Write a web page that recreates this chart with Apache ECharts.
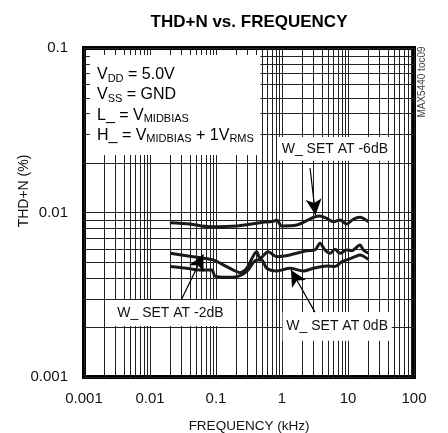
<!DOCTYPE html>
<html><head><meta charset="utf-8">
<script src="https://cdn.jsdelivr.net/npm/echarts@6/dist/echarts.min.js"></script>
<style>html,body{margin:0;padding:0;background:#fff}#c{width:448px;height:433px}</style>
</head><body><div id="c"></div><script>
// ---- data ----
const xTickLabels = ['0.001', '0.01', '0.1', '1', '10', '100'];
const yTickLabels = ['0.001', '0.01', '0.1'];

const freqMinus6 = [0.020, 0.040, 0.081, 0.206, 0.464, 0.738, 0.832, 0.99, 1.67, 2.37, 2.98, 3.76, 4.75, 5.99, 7.57, 9.55, 12.0, 15.2, 20.3];
const thdMinus6  = [0.00867, 0.00851, 0.0082, 0.00828, 0.00867, 0.00885, 0.0090, 0.00828, 0.00839, 0.00892, 0.00935, 0.00952, 0.00922, 0.00879, 0.0090, 0.00851, 0.0091, 0.00935, 0.00879];

const freqMinus2 = [0.0201, 0.0453, 0.091, 0.129, 0.183, 0.231, 0.292, 0.414, 0.464, 0.619, 0.832, 1.32, 2.37, 3.16, 3.76, 4.48, 5.34, 6.35, 7.57, 9.55, 11.4, 15.2, 17.1, 20.3];
const thdMinus2  = [0.00565, 0.00539, 0.00515, 0.0048, 0.00447, 0.00431, 0.00458, 0.00578, 0.00527, 0.00578, 0.00539, 0.00552, 0.00586, 0.00592, 0.0065, 0.00592, 0.00565, 0.00598, 0.00565, 0.00592, 0.00586, 0.00634, 0.00592, 0.00565];

const freq0 = [0.0201, 0.036, 0.0573, 0.0861, 0.0966, 0.145, 0.206, 0.292, 0.414, 0.492, 0.586, 0.832, 1.32, 2.10, 2.98, 4.75, 6.35, 8.03, 10.1, 12.8, 15.2, 20.3];
const thd0  = [0.00469, 0.00458, 0.00447, 0.00447, 0.00411, 0.00404, 0.00407, 0.00437, 0.00515, 0.00515, 0.00458, 0.00441, 0.00458, 0.00441, 0.00458, 0.00473, 0.00469, 0.00502, 0.00519, 0.00539, 0.00552, 0.00519];

const annotationNames = ['W_ SET AT -6dB', 'W_ SET AT -2dB', 'W_ SET AT 0dB'];
// ---- end data ----

const FONT = "'Liberation Sans','Arial',sans-serif";
const pair = (xs, ys) => xs.map((x, i) => [x, ys[i]]);
const pick = (labels) => (v) => {
  let best = labels[0], d = Infinity;
  labels.forEach(l => { const e = Math.abs(Math.log10(+l) - Math.log10(v)); if (e < d) { d = e; best = l; } });
  return d < 1e-6 ? best : '';
};
const minorX = [], minorY = [];
for (let e = -3; e < 2; e++) for (let m = 2; m <= 9; m++) minorX.push(m * Math.pow(10, e));
for (let e = -3; e < -1; e++) for (let m = 2; m <= 9; m++) minorY.push(m * Math.pow(10, e));

const chart = echarts.init(document.getElementById('c'), null, {renderer: 'canvas'});
const curveStyle = {color: '#1a1a1a', width: 3};
chart.setOption({
  animation: false,
  backgroundColor: '#fff',
  grid: {left: 84, right: 34, top: 48, bottom: 56, outerBoundsMode: 'none', containLabel: false,
    show: true, borderColor: '#000', borderWidth: 4, backgroundColor: 'transparent'},
  xAxis: {type: 'log', logBase: 10, min: 0.001, max: 100,
    axisLine: {show: false}, axisTick: {show: false},
    splitLine: {show: true, lineStyle: {color: '#222', width: 1}},
    axisLabel: {fontFamily: FONT, fontSize: 15, color: '#111', margin: 14, formatter: pick(xTickLabels)},
    name: 'FREQUENCY (kHz)', nameLocation: 'middle', nameGap: 42,
    nameTextStyle: {fontFamily: FONT, fontSize: 13.5, color: '#111'}},
  yAxis: {type: 'log', logBase: 10, min: 0.001, max: 0.1,
    axisLine: {show: false}, axisTick: {show: false},
    splitLine: {show: true, lineStyle: {color: '#222', width: 1}},
    axisLabel: {fontFamily: FONT, fontSize: 15, color: '#111', margin: 16, padding: [7, 0, 0, 0], formatter: pick(yTickLabels)}},
  series: [
    {type: 'line', name: '-6dB', z: 4, data: pair(freqMinus6, thdMinus6), smooth: 0.3, showSymbol: false, lineStyle: curveStyle},
    {type: 'line', name: '-2dB', z: 4, data: pair(freqMinus2, thdMinus2), smooth: 0.3, showSymbol: false, lineStyle: curveStyle},
    {type: 'line', name: '0dB', z: 4, data: pair(freq0, thd0), smooth: 0.3, showSymbol: false, lineStyle: curveStyle},
    {type: 'line', data: [], z: 5, silent: true,
      markLine: {z: 6, silent: true, symbol: ['none', 'arrow'], symbolSize: [12, 16], label: {show: false},
        lineStyle: {color: '#000', width: 1.2, type: 'solid'}, emphasis: {disabled: true},
        data: [
          [{coord: [2.66, 0.01864]}, {coord: [3.22, 0.00966]}],
          [{coord: [0.0302, 0.00298]}, {coord: [0.0643, 0.00556]}],
          [{coord: [3.16, 0.00248]}, {coord: [1.37, 0.00447]}]
        ]}}
  ]
});

// decorations placed through the chart's own scales
const px = (x, y) => chart.convertToPixel({gridIndex: 0}, [x, y]);
const snap = (v) => Math.round(v) + 0.5;
const g = [];
const lo = px(0.001, 0.001), hi = px(100, 0.1);
minorX.forEach(v => {
  const p = px(v, 0.01);
  g.push({type: 'line', z: 1, silent: true, shape: {x1: snap(p[0]), y1: hi[1], x2: snap(p[0]), y2: lo[1]}, style: {stroke: '#222', lineWidth: 1}});
});
minorY.forEach(v => {
  const p = px(1, v);
  g.push({type: 'line', z: 1, silent: true, shape: {x1: lo[0], y1: snap(p[1]), x2: hi[0], y2: snap(p[1])}, style: {stroke: '#222', lineWidth: 1}});
});
const boxes = [
  ['', [0.00123, 0.0907], [0.47, 0.0224]],
  [annotationNames[0], [0.87, 0.0288], [46, 0.0206]],
  [annotationNames[1], [0.00215, 0.00294], [0.194, 0.00204]],
  [annotationNames[2], [1.02, 0.00248], [46, 0.00166]]
];
boxes.forEach(([name, a, b]) => {
  const p1 = px(a[0], a[1]), p2 = px(b[0], b[1]);
  const x = Math.min(p1[0], p2[0]), y = Math.min(p1[1], p2[1]);
  const w = Math.abs(p2[0] - p1[0]), h = Math.abs(p2[1] - p1[1]);
  g.push({type: 'rect', z: 2, silent: true, shape: {x, y, width: w, height: h}, style: {fill: '#fff'}});
  if (name) g.push({type: 'text', z: 10, silent: true, x: x + w / 2, y: y + h / 2,
    style: {text: name, fontFamily: FONT, fontSize: 14, fill: '#111', align: 'center', verticalAlign: 'middle'}});
});
g.push(
  {type: 'text', x: 249, y: 22, z: 10, style: {
    text: 'THD+N vs. FREQUENCY', fontFamily: FONT, fontSize: 17, fontWeight: 'bold', fill: '#000', align: 'center', verticalAlign: 'middle'}},
  {type: 'text', left: 97, top: 65, z: 10, style: {
    text: '{v|V}{s|DD}{v| = 5.0V}\n{v|V}{s|SS}{v| = GND}\n{v|L_ = V}{s|MIDBIAS}\n{v|H_ = V}{s|MIDBIAS}{v| + 1V}{s|RMS}',
    rich: {v: {fontFamily: FONT, fontSize: 16, color: '#111', lineHeight: 20.3},
           s: {fontFamily: FONT, fontSize: 11, color: '#111', lineHeight: 20.3, padding: [8, 0, 0, 0]}}}},
  {type: 'text', x: 24, y: 191, rotation: Math.PI / 2, z: 10, style: {
    text: 'THD+N (%)', fontFamily: FONT, fontSize: 14, fill: '#111', align: 'center', verticalAlign: 'middle'}},
  {type: 'text', x: 422, y: 82, rotation: Math.PI / 2, z: 10, style: {
    text: 'MAX5440 toc09', fontFamily: FONT, fontSize: 10, fill: '#444', align: 'center', verticalAlign: 'middle'}}
);
chart.setOption({graphic: g});
</script></body></html>
